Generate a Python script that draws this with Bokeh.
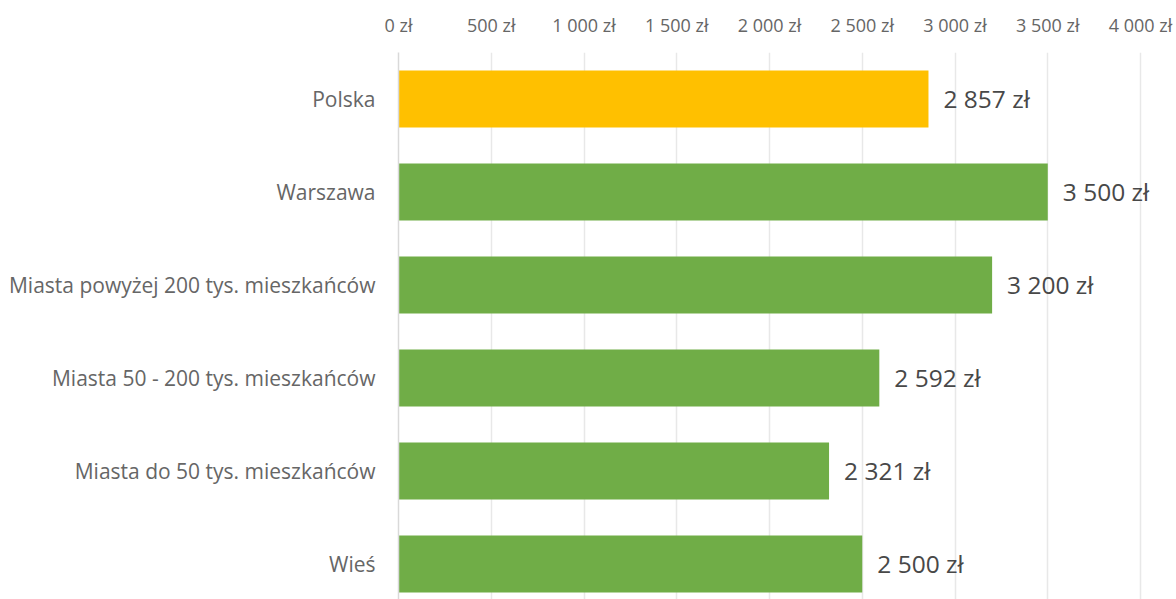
from bokeh.plotting import figure
from bokeh.models import ColumnDataSource, FixedTicker, Range1d
from bokeh.core.properties import value
from bokeh.embed import file_html
from bokeh.resources import INLINE

categories = ["Polska", "Warszawa", "Miasta powyżej 200 tys. mieszkańców",
              "Miasta 50 - 200 tys. mieszkańców", "Miasta do 50 tys. mieszkańców", "Wieś"]
values = [2857, 3500, 3200, 2592, 2321, 2500]
colors = ["#FFC000", "#70AD47", "#70AD47", "#70AD47", "#70AD47", "#70AD47"]
x_ticks = [0, 500, 1000, 1500, 2000, 2500, 3000, 3500, 4000]

def fmt(v):
    return "{:,}".format(v).replace(",", " ") + " zł"

pos = list(range(len(categories)))
src = ColumnDataSource(dict(y=pos, v=values, c=colors, lab=[fmt(v) for v in values]))

FONT = "Open Sans"

p = figure(width=1176, height=599, output_backend="svg", toolbar_location=None,
           x_range=Range1d(0, 4194), y_range=Range1d(5.382, -0.5),
           x_axis_location="above", min_border_left=398, min_border_right=0,
           min_border_top=52, min_border_bottom=0)
p.outline_line_color = None
p.background_fill_color = "white"
p.border_fill_color = "white"

p.hbar(y="y", right="v", left=0, height=0.613, fill_color="c", line_color=None, source=src)
p.text(x="v", y="y", text="lab", source=src, x_offset=15, text_baseline="middle",
       text_align="left", text_font=value(FONT), text_font_size="24.5px", text_color="#484848")

xa = p.xaxis[0]
xa.ticker = FixedTicker(ticks=x_ticks)
xa.major_label_overrides = {t: fmt(t) for t in x_ticks}
xa.axis_line_color = None
xa.major_tick_line_color = None
xa.minor_tick_line_color = None
xa.major_label_text_font = FONT
xa.major_label_text_font_size = "18px"
xa.major_label_text_color = "#666666"
xa.major_label_standoff = 10

ya = p.yaxis[0]
ya.ticker = FixedTicker(ticks=pos)
ya.major_label_overrides = {i: c for i, c in enumerate(categories)}
ya.axis_line_color = "#d9d9d9"
ya.axis_line_width = 1.5
ya.major_tick_line_color = None
ya.minor_tick_line_color = None
ya.major_label_text_font = FONT
ya.major_label_text_font_size = "21px"
ya.major_label_text_color = "#666666"
ya.major_label_standoff = 17

p.xgrid.grid_line_color = "#e8e8e8"
p.xgrid.grid_line_width = 1.5
p.ygrid.grid_line_color = None

open("out.html", "w").write(file_html(p, INLINE))
